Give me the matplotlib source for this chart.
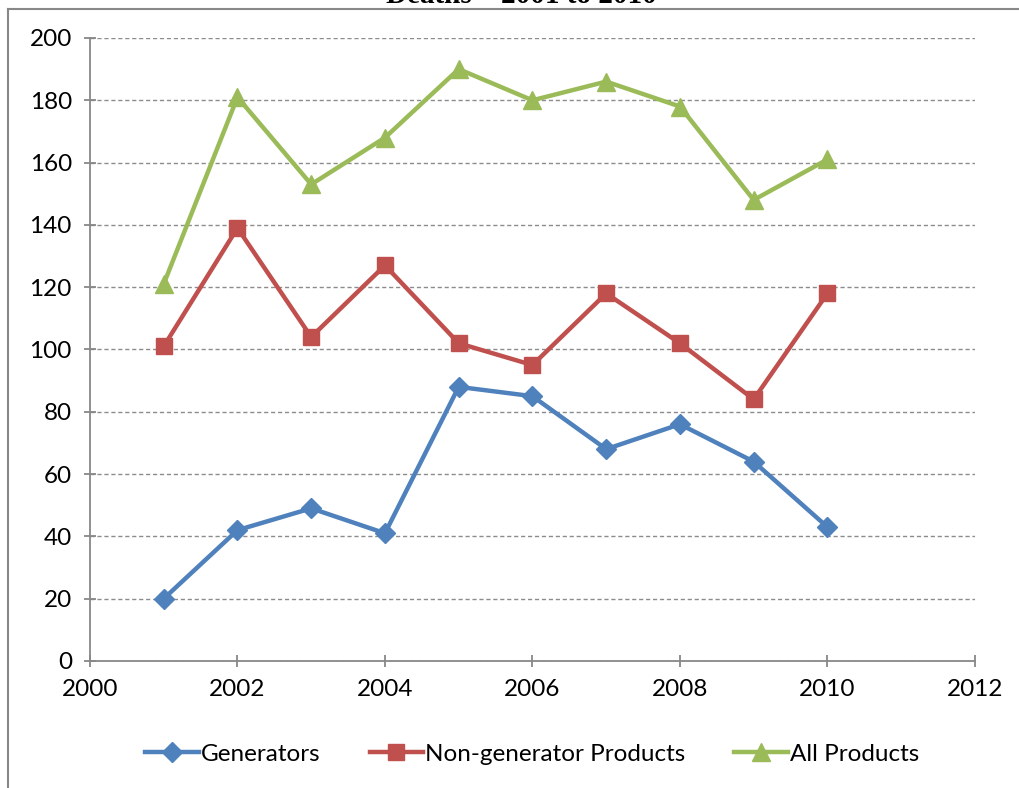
import matplotlib.pyplot as plt
from matplotlib.lines import Line2D

years = [2001, 2002, 2003, 2004, 2005, 2006, 2007, 2008, 2009, 2010]
generators = [20, 42, 49, 41, 88, 85, 68, 76, 64, 43]
non_generator = [101, 139, 104, 127, 102, 95, 118, 102, 84, 118]
all_products = [121, 181, 153, 168, 190, 180, 186, 178, 148, 161]

x_ticks = [2000, 2002, 2004, 2006, 2008, 2010, 2012]
y_ticks = [0, 20, 40, 60, 80, 100, 120, 140, 160, 180, 200]

plt.rcParams['font.family'] = ['Lato', 'DejaVu Sans']

fig = plt.figure(figsize=(10.2, 7.88), dpi=100)
ax = fig.add_axes([0.0882, 0.1612, 0.8676, 0.7906])

ax.plot(years, generators, color='#4F81BD', lw=3.2, marker='D', ms=10, label='Generators')
ax.plot(years, non_generator, color='#C0504D', lw=3.2, marker='s', ms=12, label='Non-generator Products')
ax.plot(years, all_products, color='#9BBB59', lw=3.2, marker='^', ms=13, label='All Products')

ax.set_xlim(2000, 2012)
ax.set_ylim(0, 200)
ax.set_xticks(x_ticks)
ax.set_yticks(y_ticks)
ax.tick_params(labelsize=17.5, colors='#888888', labelcolor='black', length=8, width=1.3, direction='inout')
ax.tick_params(axis='x', pad=9)
ax.tick_params(axis='y', pad=9)
ax.yaxis.grid(True, linestyle=(0, (3, 2)), color='#8c8c8c', lw=1)
ax.set_axisbelow(True)
for s in ['top', 'right']:
    ax.spines[s].set_visible(False)
for s in ['left', 'bottom']:
    ax.spines[s].set_color('#888888')
    ax.spines[s].set_linewidth(1.3)

ax.legend(loc='center', bbox_to_anchor=(0.5, -0.15), ncol=3, frameon=False, fontsize=17.5,
          handlelength=2.2, handletextpad=0.1, columnspacing=2.0)

# outer chart border (cropped)
fig.add_artist(Line2D([8 / 1020, 8 / 1020], [0, 1 - 9 / 788], transform=fig.transFigure, color='#888888', lw=1.5))
fig.add_artist(Line2D([8 / 1020, 1], [1 - 9 / 788, 1 - 9 / 788], transform=fig.transFigure, color='#888888', lw=1.5))
fig.text(0.511, 1 - 3 / 788, 'Deaths \u2013 2001 to 2010', ha='center', va='baseline',
         fontsize=21, fontweight='bold', family='Liberation Serif')

fig.savefig('out.png', dpi=100)
